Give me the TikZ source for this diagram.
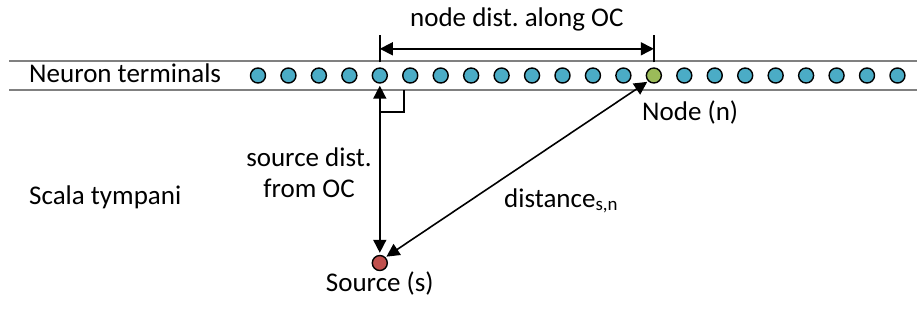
\documentclass[tikz,border=0pt]{standalone}
\usepackage{fontspec}
\setmainfont{Carlito}
\usepackage{xcolor}
\usetikzlibrary{calc, arrows.meta}

\definecolor{termblue}{RGB}{75,172,198}
\definecolor{nodegreen}{RGB}{155,187,89}
\definecolor{srcred}{RGB}{192,80,77}
\definecolor{lanegray}{RGB}{128,128,128}

\tikzset{
	terminal/.style = {circle, draw, line width=1.4pt, fill=termblue, minimum size=15pt, inner sep=0pt},
	lbl/.style = {font=\fontsize{27}{31}\selectfont\frenchspacing, inner sep=0pt},
	dim/.style = {line width=1.6pt},
	tips/.style = {{Triangle[length=13pt,width=13pt]}-{Triangle[length=13pt,width=13pt]}},
}

\begin{document}
\begin{tikzpicture}[x=1pt, y=-1pt]
	\def\xa{258};
	\def\dx{30.45};
	\def\ya{75.5};
	
	\useasboundingbox (0,0) rectangle (917,325);
	
	\draw [lanegray, line width=2pt] (9,61) -- (917,61);
	\draw [lanegray, line width=2pt] (9,90) -- (917,90);
	
	\foreach \i in {0,...,12,14,15,...,21}
		\node [terminal] (t\i) at ({\xa + \i*\dx},\ya) {};
	\node [terminal, fill=nodegreen] (n) at ({\xa + 13*\dx},\ya) {};
	\node [terminal, fill=srcred] (s) at (t4 |- 0,263) {};
	
	\coordinate (dlb) at ([yshift=5pt]t4.north);
	\coordinate (dlt) at ([yshift=32pt]t4.north);
	\coordinate (drb) at ([yshift=5pt]n.north);
	\coordinate (drt) at ([yshift=32pt]n.north);
	
	\draw [dim] (dlb) -- (dlt);
	\draw [dim] (drb) -- (drt);
	\draw [dim, tips] ($(dlb)!0.5!(dlt)$) -- ($(drb)!0.5!(drt)$) node [lbl, midway, anchor=base, yshift=22.5pt] (ldim) {node dist. along OC};
	
	\draw [dim, tips, shorten <=2pt, shorten >=2pt] (t4.south) -- (s.north);
	\draw [dim] ([yshift=-36.5pt]t4.center) -| ([xshift=24pt, yshift=-14.5pt]t4.center);
	\draw [dim, tips, shorten <=1pt, shorten >=1pt] (s.north east) -- (n.south west);
	
	\node [lbl, anchor=base west] (lterm) at (29,82) {Neuron terminals};
	\node [lbl, anchor=base west] (lscala) at (29,204) {Scala tympani};
	\node [lbl, anchor=base west] (lnode) at (642,120) {Node (n)};
	\node [lbl, anchor=base] (lsrc) at (t4 |- 0,291) {Source (s)};
	\node [lbl, anchor=base west] (ldist) at (504,207) {distance\textsubscript{s,n}};
	\node [lbl, align=center, anchor=base] (lsd) at (309,197) {source dist.\\from OC};
\end{tikzpicture}
\end{document}
